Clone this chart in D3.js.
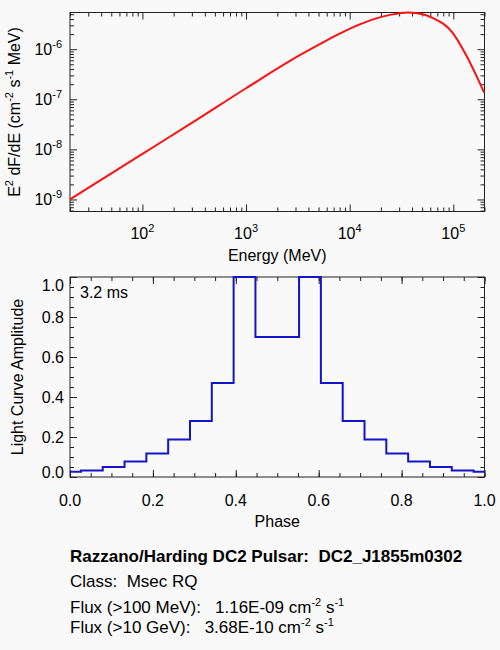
<!DOCTYPE html>
<html>
<head>
<meta charset="utf-8">
<script src="https://cdn.jsdelivr.net/npm/d3@7/dist/d3.min.js"></script>
<style>
  html, body { margin: 0; padding: 0; background: #f9f9f9; }
  svg { display: block; font-family: "Liberation Sans", Arial, Helvetica, sans-serif; }
  svg text { white-space: pre; }
  .axis path, .axis line { stroke: #222; }
</style>
</head>
<body>
<svg id="chart" width="500" height="650"></svg>
<script>
// ---- Spectrum data ----
const energy = [20, 100, 316, 1000, 3300, 5150, 8000, 12500, 19400, 30300, 36300, 43600, 63200, 98600, 132000, 165000, 199000];
const e2dnde = [1.0e-9, 8.11e-9, 3.62e-8, 1.66e-7, 7.59e-7, 1.26e-6, 2.04e-6, 3.13e-6, 4.31e-6, 5.22e-6, 5.40e-6, 5.27e-6, 4.23e-6, 2.12e-6, 7.80e-7, 3.10e-7, 1.34e-7];
const energyTicks = [1e2, 1e3, 1e4, 1e5];
const fluxTicks = [1e-9, 1e-8, 1e-7, 1e-6];

// ---- Light curve data ----
const phaseBins = d3.range(20).map(k => k / 19);
const amplitude = [0.026, 0.032, 0.05, 0.077, 0.118, 0.187, 0.28, 0.47, 1.0, 0.70, 0.70, 1.0, 0.47, 0.28, 0.187, 0.118, 0.077, 0.05, 0.032, 0.026];
const phaseTicks = [0, 0.2, 0.4, 0.6, 0.8, 1.0];
const ampTicks = [0, 0.2, 0.4, 0.6, 0.8, 1.0];

// ---- Info text ----
const titleLine = "Razzano/Harding DC2 Pulsar:  DC2_J1855m0302";
const classLine = "Class:  Msec RQ";
const flux100 = "1.16E-09";
const flux10g = "3.68E-10";
const periodLabel = "3.2 ms";

const svg = d3.select("#chart");
svg.append("rect").attr("width", 500).attr("height", 650).attr("fill", "#f9f9f9");

const L = 70, R = 484.5;
const top1 = { t: 12.5, b: 211.5 };
const top2 = { t: 277, b: 477 };
const MAJ = 7, MIN = 4;

// ===== Top: spectrum =====
const x1 = d3.scaleLog().domain([20, 2e5]).range([L, R]);
const y1 = d3.scaleLog().domain([5.75e-10, 5.4e-6]).range([top1.b, top1.t]);

function logMinors(lo, hi) {
  const out = [];
  for (let e = Math.floor(Math.log10(lo)); e <= Math.ceil(Math.log10(hi)); e++) {
    for (let m = 2; m <= 9; m++) {
      const v = m * Math.pow(10, e);
      if (v >= lo * 0.9999 && v <= hi * 1.0001) out.push(v);
    }
  }
  return out;
}
function addAxis(g, axisFn, scale, vals, size, transform) {
  const a = axisFn(scale).tickValues(vals).tickSize(-size).tickFormat("").tickSizeOuter(0);
  const gg = g.append("g").attr("class", "axis").attr("transform", transform).call(a);
  gg.select(".domain").remove();
  return gg;
}

const g1 = svg.append("g");
g1.append("rect").attr("x", L).attr("y", top1.t).attr("width", R - L).attr("height", top1.b - top1.t)
  .attr("fill", "none").attr("stroke", "#222").attr("stroke-width", 1);

const xMin1 = logMinors(20, 2e5);
addAxis(g1, d3.axisBottom, x1, xMin1, MIN, `translate(0,${top1.b})`);
addAxis(g1, d3.axisBottom, x1, energyTicks, MAJ, `translate(0,${top1.b})`);
addAxis(g1, d3.axisTop, x1, xMin1, MIN, `translate(0,${top1.t})`);
addAxis(g1, d3.axisTop, x1, energyTicks, MAJ, `translate(0,${top1.t})`);
const yMin1 = logMinors(5.75e-10, 5.4e-6);
addAxis(g1, d3.axisLeft, y1, yMin1, MIN, `translate(${L},0)`);
addAxis(g1, d3.axisLeft, y1, fluxTicks, MAJ, `translate(${L},0)`);
addAxis(g1, d3.axisRight, y1, yMin1, MIN, `translate(${R},0)`);
addAxis(g1, d3.axisRight, y1, fluxTicks, MAJ, `translate(${R},0)`);

energyTicks.forEach(v => {
  const t = g1.append("text").attr("x", x1(v)).attr("y", top1.b + 27)
    .attr("text-anchor", "middle").attr("font-size", 16);
  t.append("tspan").text("10");
  t.append("tspan").attr("dy", -7).attr("font-size", 11).text(Math.round(Math.log10(v)));
});
fluxTicks.forEach(v => {
  const t = g1.append("text").attr("x", L - 8).attr("y", y1(v) + 6)
    .attr("text-anchor", "end").attr("font-size", 16);
  t.append("tspan").text("10");
  t.append("tspan").attr("dy", -7).attr("font-size", 11).text(Math.round(Math.log10(v)));
});
g1.append("text").attr("x", (L + R) / 2).attr("y", 261).attr("text-anchor", "middle")
  .attr("font-size", 16).text("Energy (MeV)");
{
  const t = g1.append("text").attr("transform", `translate(20,${(top1.t + top1.b) / 2}) rotate(-90)`)
    .attr("text-anchor", "middle").attr("font-size", 16);
  t.append("tspan").text("E");
  t.append("tspan").attr("dy", -7).attr("font-size", 11).text("2");
  t.append("tspan").attr("dy", 7).text(" dF/dE (cm");
  t.append("tspan").attr("dy", -7).attr("font-size", 11).text("-2");
  t.append("tspan").attr("dy", 7).text(" s");
  t.append("tspan").attr("dy", -7).attr("font-size", 11).text("-1");
  t.append("tspan").attr("dy", 7).text(" MeV)");
}
const specLine = d3.line().x((d, i) => x1(energy[i])).y(d => y1(d)).curve(d3.curveMonotoneX);
g1.append("path").datum(e2dnde).attr("d", specLine).attr("fill", "none")
  .attr("stroke", "#ff1010").attr("stroke-width", 2);

// ===== Bottom: light curve =====
const x2 = d3.scaleLinear().domain([0, 1]).range([L, R]);
const y2 = d3.scaleLinear().domain([0, 1]).range([top2.b, top2.t]);
const g2 = svg.append("g");
g2.append("rect").attr("x", L).attr("y", top2.t).attr("width", R - L).attr("height", top2.b - top2.t)
  .attr("fill", "none").attr("stroke", "#222").attr("stroke-width", 1);
const minor2 = d3.range(0, 1.0001, 0.05);
addAxis(g2, d3.axisBottom, x2, minor2, MIN, `translate(0,${top2.b})`);
addAxis(g2, d3.axisBottom, x2, phaseTicks, MAJ, `translate(0,${top2.b})`);
addAxis(g2, d3.axisTop, x2, minor2, MIN, `translate(0,${top2.t})`);
addAxis(g2, d3.axisTop, x2, phaseTicks, MAJ, `translate(0,${top2.t})`);
addAxis(g2, d3.axisLeft, y2, minor2, MIN, `translate(${L},0)`);
addAxis(g2, d3.axisLeft, y2, ampTicks, MAJ, `translate(${L},0)`);
addAxis(g2, d3.axisRight, y2, minor2, MIN, `translate(${R},0)`);
addAxis(g2, d3.axisRight, y2, ampTicks, MAJ, `translate(${R},0)`);

phaseTicks.forEach(v => {
  g2.append("text").attr("x", x2(v)).attr("y", top2.b + 29).attr("text-anchor", "middle")
    .attr("font-size", 16).text(d3.format(".1f")(v));
});
ampTicks.forEach(v => {
  let dy = 6;
  if (v === 1) dy = 14;
  if (v === 0) dy = 1;
  g2.append("text").attr("x", L - 6).attr("y", y2(v) + dy).attr("text-anchor", "end")
    .attr("font-size", 16).text(d3.format(".1f")(v));
});
g2.append("text").attr("x", (L + R) / 2).attr("y", 527).attr("text-anchor", "middle")
  .attr("font-size", 16).text("Phase");
g2.append("text").attr("transform", `translate(23,${(top2.t + top2.b) / 2}) rotate(-90)`)
  .attr("text-anchor", "middle").attr("font-size", 16).text("Light Curve Amplitude");
g2.append("text").attr("x", L + 10).attr("y", top2.t + 21).attr("font-size", 16).text(periodLabel);

const lcLine = d3.line().x((d, i) => x2(phaseBins[i])).y(d => y2(d)).curve(d3.curveStep);
g2.append("path").datum(amplitude).attr("d", lcLine).attr("fill", "none")
  .attr("stroke", "#1414c8").attr("stroke-width", 2);

// ===== Info text =====
const info = svg.append("g").attr("font-size", 17);
info.append("text").attr("x", 70).attr("y", 562).attr("font-weight", "bold").text(titleLine);
info.append("text").attr("x", 70).attr("y", 587).text(classLine);
function fluxLine(y, label, val) {
  const t = info.append("text").attr("x", 70).attr("y", y);
  t.append("tspan").text(label + "   " + val + " cm");
  t.append("tspan").attr("dy", -7).attr("font-size", 11).text("-2");
  t.append("tspan").attr("dy", 7).text(" s");
  t.append("tspan").attr("dy", -7).attr("font-size", 11).text("-1");
}
fluxLine(612.5, "Flux (>100 MeV):", flux100);
fluxLine(633, "Flux (>10 GeV):", flux10g);
</script>
</body>
</html>
